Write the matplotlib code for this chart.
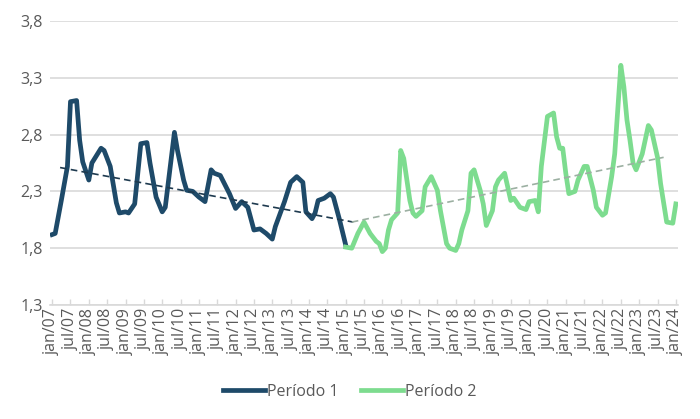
import numpy as np
import matplotlib
matplotlib.use('Agg')
import matplotlib.pyplot as plt

plt.rcParams['font.family'] = ['Open Sans', 'DejaVu Sans']

# months counted from jan/07
p1_month = [0, 1, 3, 5, 6, 8, 9, 10, 12, 13, 16, 17, 19, 21, 22, 24, 25, 27, 29, 31,
            32, 34, 36, 37, 40, 41, 43, 44, 46, 48, 50, 52, 53, 55, 58, 60, 62, 64, 66, 68,
            70, 72, 73, 76, 78, 80, 82, 83, 85, 86, 87, 89, 91, 92, 94, 96]
p1_value = [1.92, 1.93, 2.22, 2.52, 3.09, 3.10, 2.75, 2.56, 2.40, 2.55, 2.68, 2.66, 2.52, 2.20,
            2.11, 2.12, 2.11, 2.19, 2.72, 2.73, 2.55, 2.25, 2.12, 2.16, 2.82, 2.66, 2.40, 2.31,
            2.30, 2.25, 2.21, 2.49, 2.46, 2.44, 2.28, 2.15, 2.21, 2.16, 1.96, 1.97, 1.93, 1.88,
            1.99, 2.21, 2.38, 2.43, 2.38, 2.12, 2.06, 2.11, 2.22, 2.24, 2.28, 2.25, 2.05, 1.83]

p2_month = [96, 98, 100, 102, 104, 106, 107, 108, 109, 110, 111, 113, 114, 115, 117, 118, 119,
            121, 122, 124, 126, 127, 129, 130, 132, 133, 134, 136, 137, 138, 140, 141, 142, 144,
            145, 146, 148, 149, 150, 151, 153, 155, 156, 158, 159, 160, 162, 164, 165, 166, 167,
            168, 169, 171, 172, 174, 175, 177, 178, 180, 181, 183, 184, 186, 187, 188, 189, 190,
            191, 193, 195, 196, 198, 199, 201, 203, 204]
p2_value = [1.81, 1.80, 1.93, 2.03, 1.93, 1.86, 1.84, 1.77, 1.80, 1.96, 2.05, 2.11, 2.66, 2.59,
            2.22, 2.11, 2.08, 2.13, 2.34, 2.43, 2.31, 2.13, 1.84, 1.80, 1.78, 1.84, 1.96, 2.13,
            2.46, 2.49, 2.31, 2.19, 2.00, 2.13, 2.34, 2.40, 2.46, 2.34, 2.22, 2.24, 2.16, 2.14,
            2.21, 2.22, 2.12, 2.52, 2.96, 2.99, 2.78, 2.68, 2.68, 2.46, 2.28, 2.30, 2.40, 2.52,
            2.52, 2.31, 2.16, 2.09, 2.11, 2.43, 2.63, 3.41, 3.22, 2.93, 2.75, 2.55, 2.49, 2.63,
            2.88, 2.84, 2.60, 2.37, 2.03, 2.02, 2.19]

# trend lines (start/end)
trend1_month = [2.6, 98.5]
trend1_value = [2.51, 2.03]
trend2_month = [98, 200]
trend2_value = [2.03, 2.60]

years = range(7, 25)
tick_labels = []
for y in years:
    tick_labels.append('jan/%02d' % y)
    if y < 24:
        tick_labels.append('jul/%02d' % y)
tick_pos = np.arange(len(tick_labels)) * 6

navy = '#1e4a69'
green = '#7ddc8f'
grid = '#d9d9d9'
txt = '#595959'

fig = plt.figure(figsize=(7, 4.19), dpi=100)
ax = fig.add_axes([50 / 700, 1 - 305 / 419, 628 / 700, 284 / 419])

ax.plot(p1_month, p1_value, color=navy, lw=3.4, label='Período 1', solid_joinstyle='round')
ax.plot(p2_month, p2_value, color=green, lw=3.4, label='Período 2', solid_joinstyle='round')
ax.plot(trend1_month, trend1_value, color='#1e3a4f', lw=1.2, ls=(0, (4, 2.5)))
ax.plot(trend2_month, trend2_value, color='#9cb0a2', lw=1.2, ls=(0, (4, 2.5)))

ax.set_ylim(1.3, 3.8)
ax.set_xlim(-0.7, 204.7)
yt = [1.3, 1.8, 2.3, 2.8, 3.3, 3.8]
ax.set_yticks(yt)
ax.set_yticklabels([('%.1f' % v).replace('.', ',') for v in yt], color=txt, fontsize=11.5)
ax.yaxis.grid(True, color=grid, lw=1.2)
ax.set_axisbelow(True)
ax.tick_params(axis='y', length=0, pad=5)

ax.set_xticks(tick_pos)
ax.set_xticklabels(tick_labels, rotation=90, color=txt, fontsize=11.5)
ax.tick_params(axis='x', direction='in', length=4, color=grid, width=1, pad=2)

for s in ['top', 'right', 'left']:
    ax.spines[s].set_visible(False)
ax.spines['bottom'].set_color(grid)
ax.spines['bottom'].set_linewidth(1.2)

leg = fig.legend(loc='center', bbox_to_anchor=(0.5, 1 - 392 / 419), ncol=2, frameon=False,
                 fontsize=11.5, handlelength=2.6, handletextpad=0.15, columnspacing=1.4)
for t in leg.get_texts():
    t.set_color(txt)

fig.savefig('out.png', dpi=100)
